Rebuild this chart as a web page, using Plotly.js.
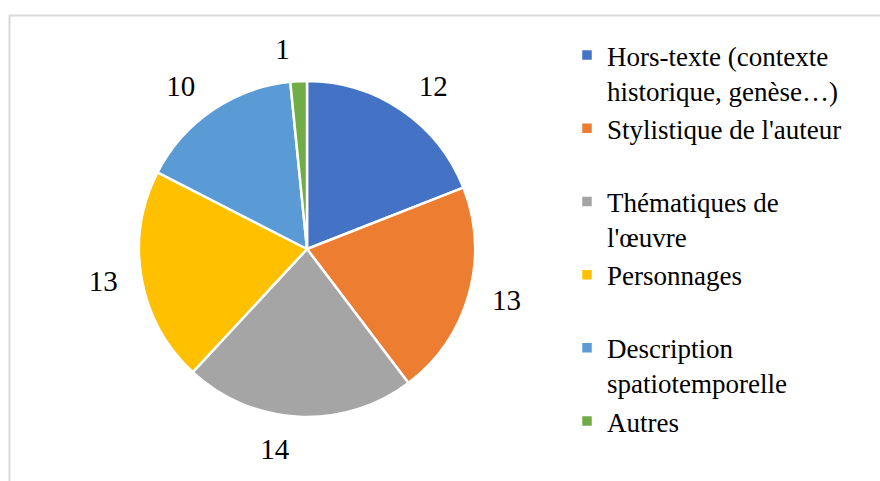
<!DOCTYPE html>
<html>
<head>
<meta charset="utf-8">
<script src="https://cdn.plot.ly/plotly-3.0.1.min.js"></script>
<style>
  html, body { margin: 0; padding: 0; background: #ffffff; }
  #chart { width: 880px; height: 481px; }
</style>
</head>
<body>
<div id="chart"></div>
<script>
// Data
const categories = [
  "Hors-texte (contexte historique, genèse…)",
  "Stylistique de l'auteur",
  "Thématiques de l'œuvre",
  "Personnages",
  "Description spatiotemporelle",
  "Autres"
];
const legendLabels = [
  "Hors-texte (contexte<br>historique, genèse…)",
  "Stylistique de l'auteur<br>&nbsp;",
  "Thématiques de<br>l'œuvre",
  "Personnages<br>&nbsp;",
  "Description<br>spatiotemporelle",
  "Autres<br>&nbsp;"
];
const values = [12, 13, 14, 13, 10, 1];
const colors = ["#4472C4", "#ED7D31", "#A5A5A5", "#FFC000", "#5B9BD5", "#70AD47"];

const W = 880, H = 481;
const FONT = "'Liberation Serif', 'Times New Roman', Times, serif";
const CX = 307, CY = 249, R = 168, RL = 184;

// Main pie (slices + legend)
const pie = {
  type: "pie",
  labels: legendLabels,
  values: values,
  customdata: categories,
  hovertemplate: "%{customdata}: %{value}<extra></extra>",
  sort: false,
  direction: "clockwise",
  rotation: 0,
  marker: { colors: colors, line: { color: "#ffffff", width: 2.5 } },
  textinfo: "none",
  domain: { x: [(CX - R) / W, (CX + R) / W], y: [1 - (CY + R) / H, 1 - (CY - R) / H] }
};

// Same data, transparent, slightly larger: carries the outside value labels
const labelPie = {
  type: "pie",
  labels: legendLabels,
  values: values,
  sort: false,
  direction: "clockwise",
  rotation: 0,
  showlegend: false,
  hoverinfo: "skip",
  marker: { colors: values.map(() => "rgba(0,0,0,0)"), line: { width: 0 } },
  textinfo: "value",
  textposition: "outside",
  outsidetextfont: { family: FONT, size: 29, color: "#000000" },
  domain: { x: [(CX - RL) / W, (CX + RL) / W], y: [1 - (CY + RL) / H, 1 - (CY - RL) / H] }
};

const layout = {
  width: W,
  height: H,
  margin: { l: 0, r: 0, t: 0, b: 0 },
  paper_bgcolor: "#ffffff",
  font: { family: FONT, color: "#000000" },
  showlegend: true,
  legend: {
    x: 567 / W,
    xanchor: "left",
    y: 1 - 43 / H,
    yanchor: "top",
    valign: "top",
    font: { family: FONT, size: 27, color: "#000000" },
    bgcolor: "rgba(0,0,0,0)",
    itemclick: false
  },
  shapes: [{
    type: "rect",
    xref: "paper", yref: "paper",
    x0: 9.5 / W, x1: 1.05,
    y0: -0.05, y1: 1 - 15.5 / H,
    line: { color: "#D9D9D9", width: 2 },
    fillcolor: "rgba(0,0,0,0)"
  }]
};

Plotly.newPlot("chart", [labelPie, pie], layout, { displayModeBar: false, staticPlot: true });
</script>
</body>
</html>
